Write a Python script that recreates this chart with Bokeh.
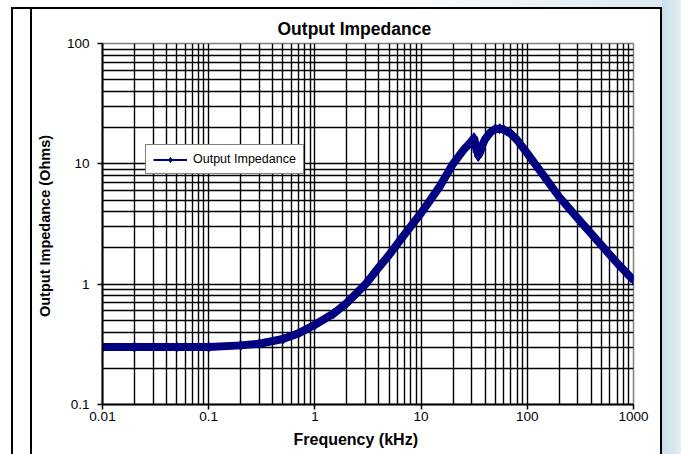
from bokeh.plotting import figure
from bokeh.models import FixedTicker, Legend, LegendItem, NumeralTickFormatter, Title, ColumnDataSource, InlineStyleSheet
from bokeh.embed import file_html
from bokeh.resources import INLINE

# ---- data ----
freq_khz = [0.01, 0.02, 0.05, 0.1, 0.2, 0.3, 0.5, 0.7, 1.0, 1.5, 2, 3, 4, 5, 7, 10, 12, 15, 20, 25,
            30, 31.5, 33, 33.5, 34, 34.5, 35, 36, 38, 40, 45, 50, 55, 60, 70, 80, 100, 150, 200,
            300, 500, 700, 1000]
impedance_ohm = [0.30, 0.30, 0.30, 0.30, 0.31, 0.32, 0.35, 0.39, 0.46, 0.57, 0.70, 1.0, 1.38, 1.75, 2.6, 3.9, 4.9, 6.5, 10.0, 13.0,
                 15.5, 16.5, 13.5, 12.5, 13.0, 11.5, 12.0, 12.5, 14.5, 16.0, 18.3, 19.5, 19.6, 19.2, 17.8, 15.8, 12.2, 7.5, 5.3,
                 3.5, 2.1, 1.5, 1.08]
x_ticks = [0.01, 0.1, 1, 10, 100, 1000]
y_ticks = [0.1, 1, 10, 100]
series_name = "Output Impedance"
chart_title = "Output Impedance"
x_title = "Frequency (kHz)"
y_title = "Output Impedance  (Ohms)"

x_minor = [m * d for d in x_ticks[:-1] for m in range(2, 10)]
y_minor = [m * d for d in y_ticks[:-1] for m in range(2, 10)]

FONT = "Liberation Sans"
NAVY = "#000080"

p = figure(width=681, height=454, x_axis_type="log", y_axis_type="log",
           x_range=(0.01, 1000), y_range=(0.1, 100),
           output_backend="svg", toolbar_location=None,
           min_border_left=102, min_border_right=48, min_border_top=43, min_border_bottom=50)

# slide-style frame lines and sky strip, drawn as a CSS overlay on the empty border area
decor = (
    "linear-gradient(#000,#000) 11px 7px / 2px 100% no-repeat, "
    "linear-gradient(#000,#000) 30px 7px / 2px 100% no-repeat, "
    "linear-gradient(#000,#000) 11px 7px / 651px 2px no-repeat, "
    "linear-gradient(#000,#000) 660px 7px / 2px 100% no-repeat, "
    "linear-gradient(90deg,#c9dde9,#e4eef4) 662px 0 / 19px 100% no-repeat, "
    "linear-gradient(90deg,#ffffff 55%,#d8e7f0) 0 0 / 100% 7px no-repeat"
)
p.stylesheets = [InlineStyleSheet(css=(
    ":host { position: relative; } "
    ":host::after { content: ''; position: absolute; left: 0; top: 0; width: 100%; height: 100%; "
    "pointer-events: none; z-index: 10; background: " + decor + "; }"
))]

p.title.text = chart_title
p.title.align = "left"
p.title.offset = 175
p.title.text_font = FONT
p.title.text_font_size = "17.5px"
p.title.text_font_style = "bold"
p.title.text_color = "black"

p.background_fill_color = "white"
p.border_fill_color = "white"
p.outline_line_color = "#808080"
p.outline_line_width = 1.5

for ax, ticks, minor in ((p.xaxis[0], x_ticks, x_minor), (p.yaxis[0], y_ticks, y_minor)):
    ax.ticker = FixedTicker(ticks=ticks, minor_ticks=minor)
    ax.formatter = NumeralTickFormatter(format="0.[00]")
    ax.axis_line_color = "black"
    ax.axis_line_width = 2
    ax.major_tick_line_color = "black"
    ax.major_tick_line_width = 1.5
    ax.major_tick_in = 0
    ax.major_tick_out = 5
    ax.minor_tick_out = 0
    ax.minor_tick_in = 0
    ax.major_label_text_font = FONT
    ax.major_label_text_font_size = "13.5px"
    ax.major_label_text_color = "black"
    ax.axis_label_text_font = FONT
    ax.axis_label_text_font_size = "14.5px"
    ax.axis_label_text_font_style = "bold"
    ax.axis_label_text_color = "black"

p.yaxis.axis_label = y_title
p.yaxis.axis_label_standoff = 11
p.yaxis.major_label_standoff = 8

p.xaxis.major_label_standoff = 2
xt = Title(text=x_title, align="left", offset=191, text_font=FONT, text_font_size="16px",
           text_font_style="bold", text_color="black", text_line_height=1.4, vertical_align="bottom")
p.add_layout(xt, "below")

for g in (p.xgrid[0], p.ygrid[0]):
    g.grid_line_color = "black"
    g.grid_line_width = 1.4
    g.grid_line_alpha = 1.0
    g.minor_grid_line_color = "black"
    g.minor_grid_line_width = 1.4

src = ColumnDataSource(dict(f=freq_khz, z=impedance_ohm))
thin = p.line("f", "z", source=src, line_color=NAVY, line_width=2)
p.line("f", "z", source=src, line_color=NAVY, line_width=8)
marks = p.scatter("f", "z", source=src, marker="diamond", size=10, fill_color=NAVY, line_color=NAVY)

legend = Legend(items=[LegendItem(label=series_name, renderers=[thin, marks])],
                location=(43, 230), orientation="vertical")
legend.label_text_font = FONT
legend.label_text_font_size = "12.5px"
legend.label_text_color = "black"
legend.border_line_color = "black"
legend.border_line_width = 1.5
legend.background_fill_color = "white"
legend.background_fill_alpha = 1.0
legend.glyph_width = 34
legend.glyph_height = 13
legend.label_height = 13
legend.label_standoff = 6
legend.padding = 7
legend.margin = 0
legend.spacing = 0
p.add_layout(legend, "center")

open("out.html", "w").write(file_html(p, INLINE))
